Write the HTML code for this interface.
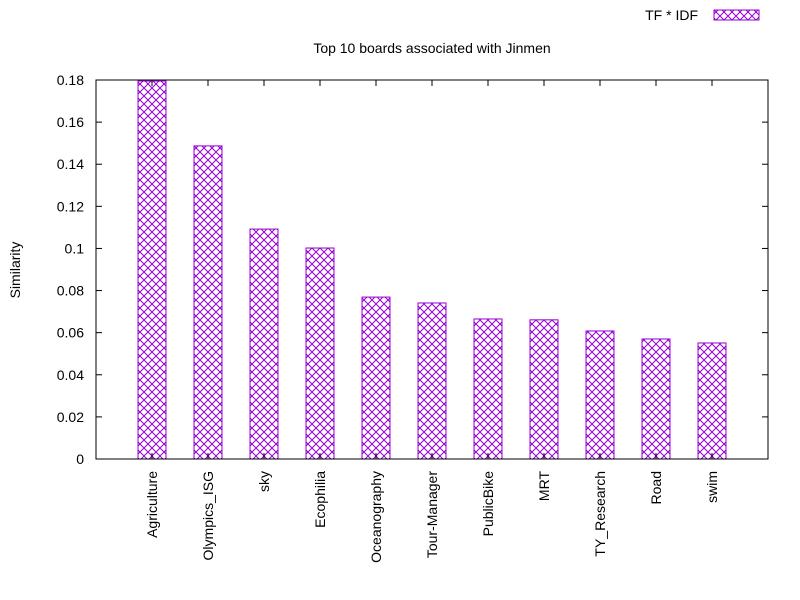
<!DOCTYPE html>
<html><head><meta charset="utf-8"><style>body{margin:0;background:#fff}svg{display:block}text{font-family:"Liberation Sans",sans-serif;font-size:14px;fill:#000}</style></head>
<body>
<svg id="c" width="800" height="600">
<defs><pattern id="hatch" width="8" height="8" patternUnits="userSpaceOnUse"><path d="M0,0L8,8M8,0L0,8" stroke="#9400d3" stroke-width="1" fill="none"/></pattern></defs>
</svg>
<script>
const categories=["Agriculture","Olympics_ISG","sky","Ecophilia","Oceanography","Tour-Manager","PublicBike","MRT","TY_Research","Road","swim"];
const values=[0.1795,0.1487,0.1092,0.1002,0.0769,0.0741,0.0665,0.0661,0.0608,0.0570,0.0551];
const yTicks=[0,0.02,0.04,0.06,0.08,0.1,0.12,0.14,0.16,0.18];
const yTickLabels=["0","0.02","0.04","0.06","0.08","0.1","0.12","0.14","0.16","0.18"];
const svg=document.getElementById('c');const NS='http://www.w3.org/2000/svg';
const L=96,R=768,T=80,B=459,yMax=0.18;
const y=v=>B-(v/yMax)*(B-T);
const x=i=>L+(i+1)*(R-L)/(categories.length+1);
function el(t,a,p){const e=document.createElementNS(NS,t);for(const k in a)e.setAttribute(k,a[k]);(p||svg).appendChild(e);return e;}
values.forEach((v,i)=>{const b=el('rect',{x:x(i)-14,y:y(v),width:28,height:B-y(v),fill:'url(#hatch)',stroke:'#9400d3','stroke-width':1});

});
const f=el('rect',{x:L,y:T,width:R-L,height:B-T,fill:'none',stroke:'#000','stroke-width':1});


yTicks.forEach((t,i)=>{el('line',{x1:L,x2:L+6,y1:y(t),y2:y(t),stroke:'#000'});el('line',{x1:R,x2:R-6,y1:y(t),y2:y(t),stroke:'#000'});
const tx=el('text',{x:L-12,y:y(t)+5,'text-anchor':'end'});tx.textContent=yTickLabels[i];

});
categories.forEach((c,i)=>{el('line',{x1:x(i),x2:x(i),y1:B,y2:B-6,stroke:'#000'});el('line',{x1:x(i),x2:x(i),y1:T,y2:T+6,stroke:'#000'});
const tx=el('text',{transform:`translate(${x(i)+5},${B+12}) rotate(-90)`,'text-anchor':'end'});tx.textContent=c;

});
const ti=el('text',{x:432,y:53,'text-anchor':'middle'});ti.textContent='Top 10 boards associated with Jinmen';


const yl=el('text',{transform:'translate(20,270) rotate(-90)','text-anchor':'middle'});yl.textContent='Similarity';


const lg=el('text',{x:698,y:20,'text-anchor':'end'});lg.textContent='TF * IDF';


const ls=el('rect',{x:714,y:10,width:45,height:10,fill:'url(#hatch)',stroke:'#9400d3'});


</script>
</body></html>
